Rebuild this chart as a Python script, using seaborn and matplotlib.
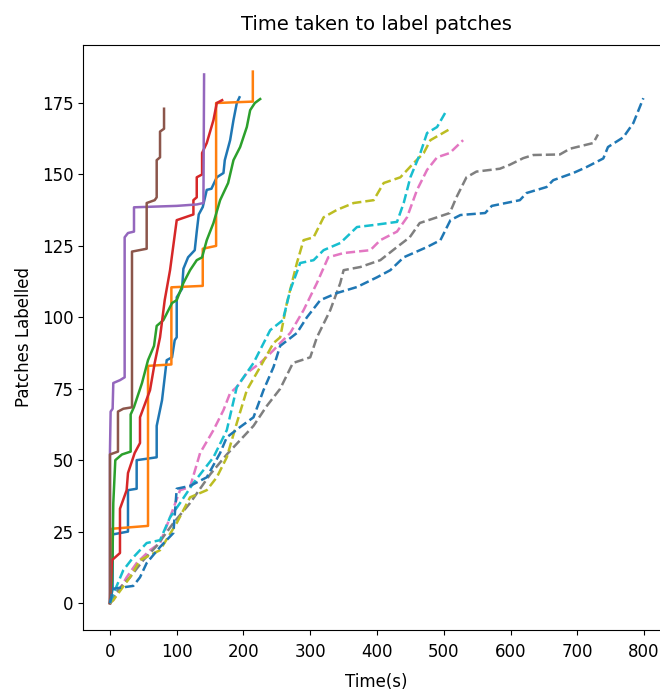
import numpy as np
import pandas as pd
import seaborn as sns
from matplotlib import pyplot as plt
from matplotlib import rcParams

rcParams['font.family'] = 'DejaVu Sans'
rcParams['font.size'] = 12

#%% data: cumulative patches labelled vs elapsed time (s), one session per line
# solid sessions
blue_t   = [0, 4, 4, 27, 27, 40, 40, 70, 70, 78, 85, 93, 97, 100, 100, 108, 110, 117, 127, 130, 133, 139, 145, 152, 160, 170, 172, 180, 185, 190, 194]
blue_n   = [0, 5, 24, 25, 39.5, 40, 50, 51, 62, 71, 85, 86, 92, 93, 107, 110, 117, 121, 123.5, 130, 136, 138.6, 144.6, 145, 149, 150.5, 155, 162, 169, 175, 177]
orange_t = [0, 3, 57, 57, 92, 92, 139, 139, 159, 159, 214, 214]
orange_n = [0, 26, 27, 83, 83.5, 110.5, 111, 124, 125, 175, 175.5, 186]
green_t  = [0, 3, 4, 5, 8, 18, 31, 31, 36, 48, 57, 66, 70, 80, 93, 100, 110, 120, 130, 138, 145, 155, 165, 177, 185, 195, 205, 210, 217, 225]
green_n  = [0, 8, 18, 35, 50, 52, 53, 66, 68.6, 77, 85, 90, 97, 99, 105, 106, 112, 116.5, 120, 121, 127, 133, 141, 147, 155, 159.6, 166.6, 172.5, 175, 176.4]
red_t    = [0, 3, 15, 15, 25, 27, 37, 45, 45, 60, 67, 75, 82, 90, 94, 100, 125, 125, 130, 130, 138, 138, 145, 155, 160, 168]
red_n    = [0, 15, 17.5, 33, 39.5, 45.5, 52.5, 56, 65, 74.5, 84, 93, 106, 116.5, 123.5, 134, 136, 141, 142, 149, 150, 157.5, 161, 169, 175, 176]
purple_t = [0, 0, 1, 4, 5, 15, 22, 22, 27, 36, 36, 100, 130, 140, 141]
purple_n = [0, 53, 67, 68, 77, 78, 79, 128, 129.5, 130, 138.5, 139, 139.5, 140, 185]
brown_t  = [0, 0, 12, 12, 20, 33, 33, 55, 55, 67, 70, 70, 75, 75, 81, 81]
brown_n  = [0, 52, 53, 67, 68, 68.5, 123, 124, 140, 141, 142, 155, 156, 165, 166, 173]

# dashed sessions
pink_t   = [0, 5, 25, 40, 60, 75, 90, 105, 120, 135, 155, 170, 180, 190, 205, 225, 245, 255, 270, 290, 310, 327, 350, 390, 405, 430, 445, 460, 475, 490, 509, 529]
pink_n   = [0, 1, 9, 14, 18.5, 21, 30, 39.5, 40.6, 52.5, 60.5, 67.5, 73.5, 75.6, 80.5, 84, 88.5, 91, 94.5, 102.5, 112, 121, 122.5, 123.5, 127, 130, 135, 144.6, 151.6, 156, 157.5, 162]
gray_t   = [0, 10, 30, 50, 70, 95, 120, 150, 175, 195, 215, 235, 255, 274, 300, 310, 330, 345, 350, 375, 405, 430, 449, 464, 490, 509, 519, 534, 549, 584, 599, 619, 634, 674, 689, 724, 731]
gray_n   = [0, 4, 9, 15, 20, 28, 35, 45, 52, 57, 62, 69, 75, 84, 86, 93, 102.5, 112, 116.5, 117.6, 120, 124.6, 128, 133, 135, 136.5, 142, 149, 151, 152, 153.4, 155.7, 156.8, 157, 159, 161, 164]
olive_t  = [0, 5, 30, 45, 75, 100, 120, 145, 160, 175, 190, 205, 225, 245, 255, 265, 280, 290, 305, 320, 340, 365, 395, 410, 435, 455, 470, 480, 507]
olive_n  = [0, 1, 9, 15, 18.5, 28, 37, 39.5, 44, 51, 63, 74.5, 82.6, 91, 93, 105, 119, 127, 128, 135, 137.6, 140, 141, 147, 149, 154, 157.5, 162, 165.6]
cyan_t   = [0, 3, 20, 35, 55, 75, 90, 105, 125, 140, 155, 175, 190, 215, 240, 259, 270, 285, 305, 320, 345, 370, 395, 430, 440, 450, 465, 475, 490, 502]
cyan_n   = [0, 2, 11.5, 16, 21, 22, 30, 35, 42, 46.5, 51, 60.5, 75.6, 84, 95.5, 99, 109.5, 119, 120, 123.5, 126, 131.6, 132.3, 133.4, 140, 149, 157.5, 164.5, 166.6, 171.5]
blue2_t  = [0, 5, 35, 45, 55, 75, 95, 100, 120, 145, 165, 175, 195, 215, 230, 245, 255, 280, 295, 315, 340, 370, 400, 420, 440, 475, 495, 510, 525, 562, 572, 614, 624, 654, 664, 694, 714, 739, 746, 769, 784, 799]
blue2_n  = [0, 5, 6, 9, 14, 19.6, 24.5, 40, 41, 44, 52.5, 58, 61.6, 65, 74.5, 82.6, 90, 94.5, 100, 106, 108.5, 110.6, 114, 116.5, 121, 124.6, 127, 134, 135.8, 136.5, 139, 141, 143.5, 145.6, 148, 150.5, 152.6, 155.6, 159.6, 163, 168, 176.7]

sessions = [(blue_t, blue_n, '-'), (orange_t, orange_n, '-'), (green_t, green_n, '-'),
            (red_t, red_n, '-'), (purple_t, purple_n, '-'), (brown_t, brown_n, '-'),
            (pink_t, pink_n, '--'), (gray_t, gray_n, '--'), (olive_t, olive_n, '--'),
            (cyan_t, cyan_n, '--'), (blue2_t, blue2_n, '--')]

#%%
fig = plt.figure(figsize=(6.6, 6.98), dpi=100)
ax = fig.add_axes([0.1262, 0.098, 0.889, 0.8375])

pal = sns.color_palette('tab10', 10)
for i, (t, n, ls) in enumerate(sessions):
    df = pd.DataFrame({'time': t, 'count': n})
    sns.lineplot(data=df, x='time', y='count', estimator=None, sort=False,
                 color=pal[i % 10], linestyle=ls, linewidth=1.8, ax=ax)

ax.set_xticks(np.arange(0, 900, 100))
ax.set_yticks(np.arange(0, 200, 25))
ax.tick_params(axis='x', pad=6)
ax.set_xlabel('Time(s)', labelpad=9)
ax.set_ylabel('Patches Labelled', labelpad=6)
ax.set_title('Time taken to label patches', fontsize=14, pad=11)

fig.savefig('out.png', dpi=100)
